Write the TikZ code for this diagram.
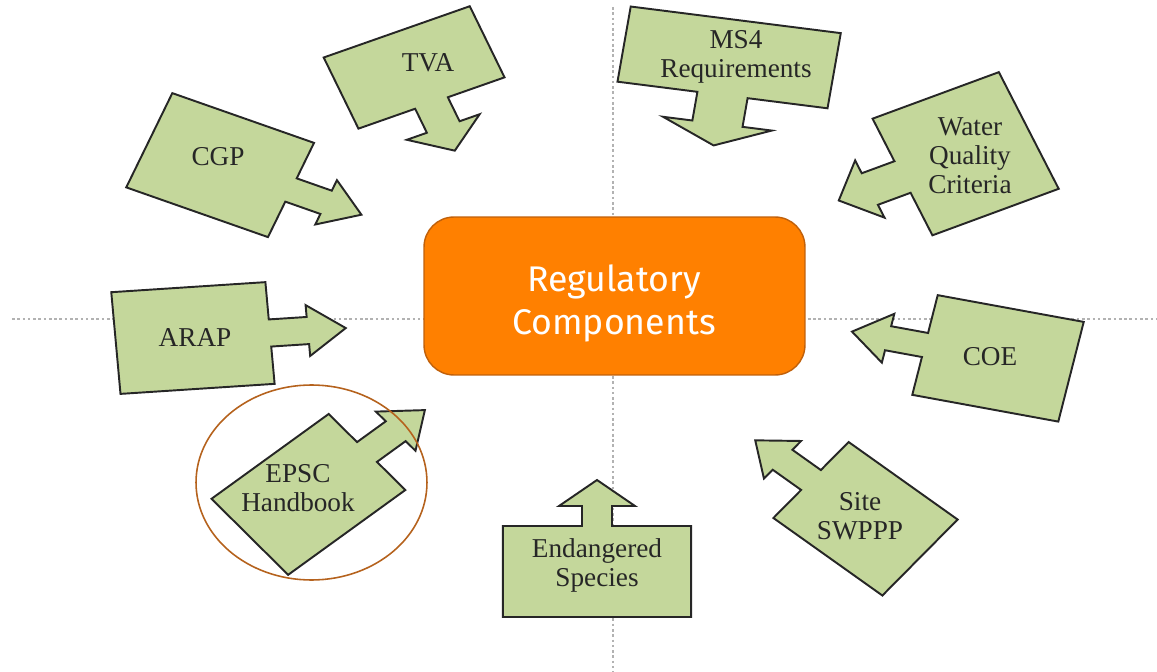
\documentclass[tikz,border=0pt]{standalone}
\usepackage{fontspec}
\setmainfont{Liberation Serif}
\newfontfamily\regfont{Fira Sans}
\usetikzlibrary{shapes.geometric}

\definecolor{leaf}{HTML}{C4D79B}
\definecolor{hubfill}{HTML}{FF8000}
\definecolor{hubline}{HTML}{C0600A}
\definecolor{ringcol}{HTML}{B5621D}

% box with an arrow: origin, angle, depth, half width, shaft half width, shaft length, head half width, head length
% (the slide is stretched sideways, hence the xscale)
\newcommand{\calloutbox}[8]{%
  \draw[callout, shift={#1}, xscale=1.18, rotate=#2]
    (0,-#4) -- (0,-#5) -- (#6,-#5) -- (#6,-#7) -- ({#6+#8},0) -- (#6,#7) -- (#6,#5)
    -- (0,#5) -- (0,#4) -- (-#3,#4) -- (-#3,-#4) -- cycle;}

\begin{document}
\begin{tikzpicture}[x=0.02cm,y=-0.02cm,
    callout/.style={draw=black!85,fill=leaf,line width=1.1pt},
    lbl/.style={font=\fontsize{15.5}{16.5}\selectfont,align=center,text=black!85},
    guide/.style={draw=black!30,line width=0.6pt,dash pattern=on 1.5pt off 1.5pt}]
        \useasboundingbox (0,0) rectangle (1157,672);

        % dotted guides
        \draw[guide] (12,319) -- (1157,319);
        \draw[guide] (613,7) -- (613,672);

        % the nine boxes
        \calloutbox{(431.5,103)}{-67.5}{77}{67}{15}{26}{33.4}{25.6}
        \calloutbox{(291,190)}{-22.5}{130}{51}{12.6}{32.2}{24}{32.4}
        \calloutbox{(722.5,95)}{-98.5}{76}{90}{21.5}{29}{46.6}{22}
        \calloutbox{(902.5,177)}{203.5}{116.7}{63.6}{17.2}{30.2}{31.2}{28.7}
        \calloutbox{(270,333)}{4.4}{131}{51}{13.6}{32.2}{25.5}{32.2}
        \calloutbox{(925,345)}{167.8}{126.6}{51}{12.3}{32}{25}{31.3}
        \calloutbox{(367,452)}{40.5}{130.6}{50}{13}{32}{25.8}{32.5}
        \calloutbox{(597,526)}{90}{91}{79.7}{12.7}{20}{32.2}{26}
        \calloutbox{(811,480)}{140}{120.6}{49.6}{13}{31.5}{24.5}{30.2}

        \node (tva) at (428,63) [lbl] {TVA};
        \node (cgp) at (218,157) [lbl] {CGP};
        \node (ms4) at (736,57) [lbl] {MS4\\Requirements};
        \node (wqc) at (970,156) [lbl] {Water\\Quality\\Criteria};
        \node (arap) at (195,338) [lbl] {ARAP};
        \node (coe) at (990,357) [lbl] {COE};
        \node (epsc) at (298,488) [lbl] {EPSC\\Handbook};
        \node (species) at (597,565) [lbl] {Endangered\\Species};
        \node (swppp) at (860,516) [lbl] {Site\\SWPPP};

        \node (reg) at (614.5,296) [draw=hubline,fill=hubfill,line width=0.8pt,rounded corners=0.6cm,
            minimum width=7.62cm,minimum height=3.16cm] {};
        \node (regtext) at (614,303) [text=white,align=center,
            font=\regfont\fontsize{20.3}{24.5}\selectfont] {Regulatory\\Components};

        \node (ring) at (311.5,482.5) [ellipse,draw=ringcol,line width=0.9pt,
            minimum width=4.62cm,minimum height=3.9cm] {};
    \end{tikzpicture}
\end{document}
